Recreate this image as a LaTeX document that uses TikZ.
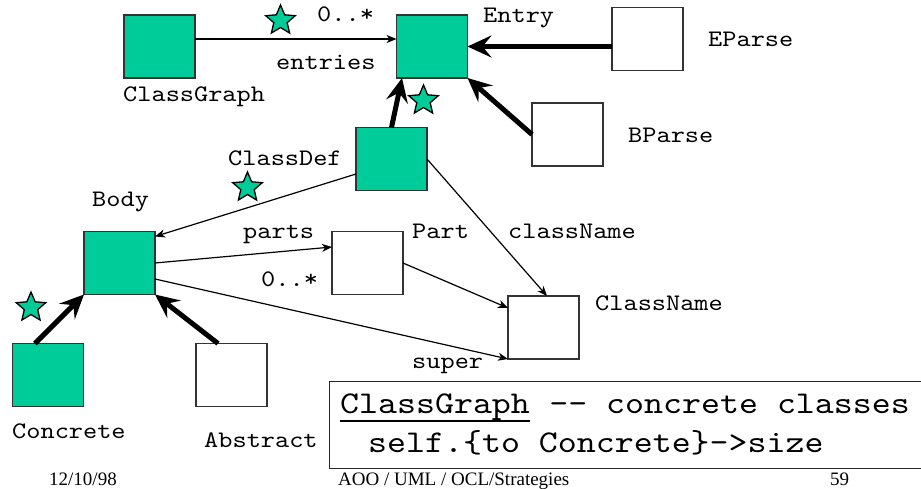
\documentclass[tikz,border=0pt]{standalone}
\usepackage{fontspec}
\setmainfont{Liberation Serif}
\newfontfamily\monofont{lmmono10-regular.otf}[FakeStretch=1.14]
\usetikzlibrary{arrows.meta,shapes.geometric}
\definecolor{clsfill}{HTML}{00CC99}
\begin{document}
\begin{tikzpicture}[x=1pt,y=-1pt,
  cls/.style={draw=black!80, line width=1.1pt, minimum width=71pt, minimum height=63pt, inner sep=0pt, outer sep=0pt},
  conc/.style={cls, fill=clsfill},
  abst/.style={cls, fill=white},
  lbl/.style={font=\monofont\fontsize{23.7}{28}\selectfont, inner sep=0pt, anchor=base west},
  big/.style={font=\monofont\fontsize{31.7}{38}\selectfont, inner sep=0pt, anchor=base west},
  foot/.style={font=\fontsize{19}{22}\selectfont, inner sep=0pt, anchor=base west},
  assoc/.style={line width=1.2pt, -{Stealth[length=10pt,width=8pt,inset=3pt]}},
  inherit/.style={line width=5pt, -{Stealth[length=24pt,width=22pt,inset=9pt]}},
  starmark/.style={star, star points=5, star point ratio=2.2, minimum size=31pt, inner sep=0pt, draw=black, line width=1.3pt, fill=clsfill},
]
\useasboundingbox (0,0) rectangle (921,489);

% classes
\node[conc] (CG)        at (159.5,46.5) {};
\node[conc] (Entry)     at (432,46.5)   {};
\node[abst] (EParse)    at (647.5,39)   {};
\node[abst] (BParse)    at (567.5,134.5){};
\node[conc] (ClassDef)  at (391.5,159)  {};
\node[conc] (Body)      at (119.5,263)  {};
\node[abst] (Part)      at (367.5,263)  {};
\node[abst] (ClassName) at (543.5,327.5){};
\node[conc] (Concrete)  at (48,375)     {};
\node[abst] (Abstract)  at (231.5,375)  {};

% class names
\node[lbl] (tCG)        at (123,102) {ClassGraph};
\node[lbl] (tEntry)     at (483,23)  {Entry};
\node[lbl] (tEParse)    at (708,47)  {EParse};
\node[lbl] (tBParse)    at (628,143) {BParse};
\node[lbl] (tClassDef)  at (228,166) {ClassDef};
\node[lbl] (tBody)      at (92,207)  {Body};
\node[lbl] (tPart)      at (412,239) {Part};
\node[lbl] (tClassName) at (595,310) {ClassName};
\node[lbl] (tConcrete)  at (12,438)  {Concrete};
\node[lbl] (tAbstract)  at (204,447) {Abstract};

% role names and multiplicities
\node[lbl] (mEntries)   at (317,22)  {0..*};
\node[lbl] (rEntries)   at (276,70)  {entries};
\node[lbl] (rParts)     at (243,239) {parts};
\node[lbl] (mParts)     at (261,287) {0..*};
\node[lbl] (rClassName) at (508,239) {className};
\node[lbl] (rSuper)     at (412,368) {super};

% associations
\draw[assoc] ([yshift=7.5pt]CG.east) -- ([yshift=7.5pt]Entry.west);
\draw[assoc] ([yshift=-15pt]ClassDef.west) -- ([yshift=-5pt]Body.north east);
\draw[assoc] (Body.east) -- ([yshift=16pt]Part.west);
\draw[assoc] ([yshift=-16pt]Body.east) -- (ClassName.south west);
\draw[assoc] (Part.east) -- ([yshift=19.5pt]ClassName.west);
\draw[assoc] (ClassDef.east) -- ([xshift=3.5pt]ClassName.north);

% inheritance
\draw[inherit] (EParse.west |- Entry.east) -- (Entry.east);
\draw[inherit] (BParse.west) -- (Entry.south east);
\draw[inherit] (ClassDef.north) -- ([xshift=-30pt]Entry.south);
\draw[inherit] ([xshift=-13pt]Concrete.north) -- (Body.south west);
\draw[inherit] ([xshift=-13.5pt]Abstract.north) -- (Body.south east);

% stars on the traversed edges
\node[starmark] (s1) at (280.5,20.5)  {};
\node[starmark] (s2) at (423.5,100.5) {};
\node[starmark] (s3) at (247.5,187.5) {};
\node[starmark] (s4) at (31,307.5)    {};

% OCL note
\node[draw=black!85, line width=1.3pt, minimum width=610pt, minimum height=87pt, inner sep=0pt, anchor=north west] (note) at (329,381) {};
\node[big] (nCG) at (340,413) {ClassGraph};
\node[big, xshift=19pt] (nRest) at (nCG.base east) {-{}- concrete classes};
\draw[line width=1.3pt] ([yshift=-8pt]nCG.base west) -- ([yshift=-8pt]nCG.base east);
\node[big] (nLine2) at (368,452) {self.\{to Concrete\}->size};

% footer
\node[foot] (date)  at (49,485)  {12/10/98};
\node[foot] (title) at (338,485) {AOO / UML / OCL/Strategies};
\node[foot] (page)  at (830,485) {59};
\end{tikzpicture}
\end{document}
